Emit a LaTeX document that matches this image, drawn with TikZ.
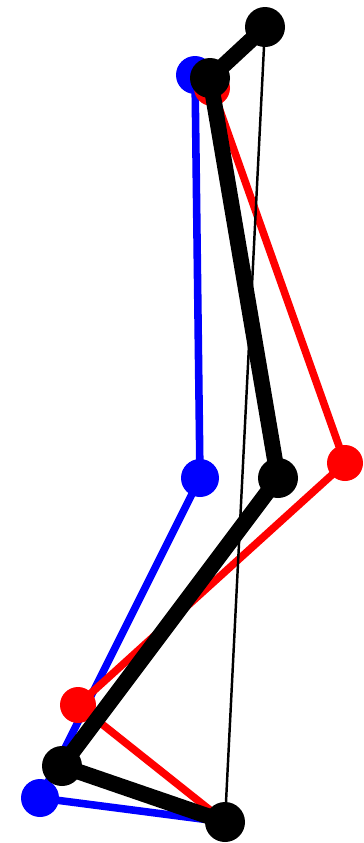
\documentclass[tikz,border=0pt]{standalone}
\usepackage{xcolor}
\usetikzlibrary{calc}
\tikzset{
  bone/.style={line width=4.3pt,line cap=round,line join=round},
  thickbone/.style={line width=9pt,line cap=round,line join=round},
  thinbone/.style={line width=1.4pt}
}
\begin{document}
\begin{tikzpicture}[x=0.02cm,y=-0.02cm]
            \useasboundingbox (0,0) rectangle (364,843);
            % Joints
            \coordinate (bl1) at (195,75);
            \coordinate (bl2) at (200,478);
            \coordinate (bl3) at (40,798);
            \coordinate (bl4) at (225,822);
            \coordinate (rd1) at (212,88);
            \coordinate (rd2) at (345,463);
            \coordinate (rd3) at (78,705);
            \coordinate (rd4) at (225,822);
            \coordinate (bk0) at (265,27);
            \coordinate (bk1) at (210,78);
            \coordinate (bk2) at (278,478);
            \coordinate (bk3) at (62,766);
            \coordinate (bk4) at (225,822);
            
            % Blue leg
            \draw[bone,blue] (bl1) -- (bl2) -- (bl3) -- (bl4);
            \foreach \p in {bl1,bl2,bl3,bl4} {
                \fill[blue] (\p) circle (19);
            }
            
            % Red leg
            \draw[bone,red] (rd1) -- (rd2) -- (rd3) -- (rd4);
            \foreach \p in {rd1,rd2,rd3} {
                \fill[red] (\p) circle (18);
            }
            
            % Black leg
            \draw[thinbone] (bk0) -- (bk4);
            \draw[thickbone] (bk0) -- (bk1) -- (bk2) -- (bk3) -- (bk4);
            \foreach \p in {bk0,bk1,bk2,bk3,bk4} {
                \fill[black] (\p) circle (20);
            }
        \end{tikzpicture}
\end{document}
